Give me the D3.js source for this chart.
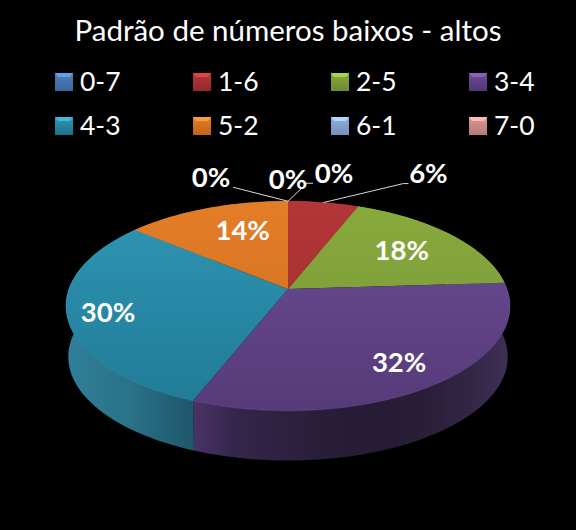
<!DOCTYPE html>
<html>
<head>
<meta charset="utf-8">
<script src="https://cdn.jsdelivr.net/npm/d3@7"></script>
<style>
  html, body { margin: 0; padding: 0; background: #000; }
  text { font-family: Lato, sans-serif; fill: #fff; }
</style>
</head>
<body>
<div id="chart"></div>
<script>
// chart values
var title = 'Padrão de números baixos - altos';
var categories = ['0-7', '1-6', '2-5', '3-4', '4-3', '5-2', '6-1', '7-0'];
var percents = [0, 6, 18, 32, 30, 14, 0, 0];

// colours per category
var topLight = ['#4f81bd', '#b43638', '#8aab3c', '#6d4e98', '#2f98b6', '#e47e28', '#8eaed8', '#d99694'];
var topDark = ['#3f6fa8', '#a12c2e', '#76963a', '#573a78', '#217a96', '#d06c1e', '#7f9fcb', '#c98583'];
// side wall colours, left to right on the page
var sideStops = [
  ['#2f5585', '#223f63'],
  ['#7d2424', '#5a1a1a'],
  ['#5f7a2a', '#45591e'],
  ['#4a3366', '#35264b', '#2f2242', '#2a1f3b', '#271c35', '#271c35', '#2a1f3a', '#332645', '#3f3057'],
  ['#2f8099', '#2a7288', '#1f566a'],
  ['#a85a18', '#7d4312'],
  ['#6a86aa', '#4f6580'],
  ['#a06e6c', '#7a5452']
];

// label placement relative to each slice's rim point, apart from the values
var labelOffsets = [
  { dx: 46, dy: -28, leader: [[19, -18], [25, -18]] },
  { dx: 105, dy: -29, leader: [[80, -19], [85, -19]] },
  { dx: -48, dy: 16 },
  { dx: -37, dy: -22 },
  { dx: 41, dy: -3 },
  { dx: 36, dy: 22 },
  { dx: -77, dy: -24, leader: [[-55, -14]] },
  { dx: 0, dy: -22 }
];

var attrs = {
  width: 576,
  height: 530,
  cx: 288,
  cy: 289,
  radiusX: 219,
  radiusY: 102,
  perspective: 0.162,
  depth: 51,
  bottomScale: 0.99
};

var svg = d3.select('#chart').append('svg')
  .attr('width', attrs.width)
  .attr('height', attrs.height)
  .style('display', 'block');

svg.append('rect').attr('width', attrs.width).attr('height', attrs.height).attr('fill', '#000');
var defs = svg.append('defs');

// pie angle to screen point, circle seen in perspective
function project(angle, scale, drop) {
  var u = Math.sin(angle), v = -Math.cos(angle);
  var w = 1 - attrs.perspective * v;
  return [
    attrs.cx + scale * attrs.radiusX * u / w,
    attrs.cy + drop + scale * attrs.radiusY * v / w
  ];
}

function rimPoints(d, scale, drop) {
  var steps = Math.max(2, Math.ceil((d.endAngle - d.startAngle) / 0.02));
  return d3.range(steps + 1).map(function (i) {
    return project(d.startAngle + (d.endAngle - d.startAngle) * i / steps, scale, drop);
  });
}

var line = d3.line();
var slices = d3.pie().sort(null).value(function (d) { return d; })(percents);
var visible = slices.filter(function (d) { return d.value > 0; });

// side wall
var sideGroup = svg.append('g');
visible.forEach(function (d) {
  var upper = rimPoints(d, 1, 0);
  var lower = rimPoints(d, attrs.bottomScale, attrs.depth);
  var xs = upper.map(function (p) { return p[0]; });
  var id = 'side-' + d.index;
  var grad = defs.append('linearGradient').attr('id', id)
    .attr('gradientUnits', 'userSpaceOnUse')
    .attr('x1', d3.min(xs)).attr('x2', d3.max(xs)).attr('y1', 0).attr('y2', 0);
  var stops = sideStops[d.index];
  stops.forEach(function (c, i) {
    grad.append('stop').attr('offset', i / (stops.length - 1)).attr('stop-color', c);
  });
  sideGroup.append('path')
    .attr('d', line(upper.concat(lower.reverse())) + 'Z')
    .attr('fill', 'url(#' + id + ')');
});

// top face
var topGroup = svg.append('g');
visible.forEach(function (d) {
  var id = 'top-' + d.index;
  var grad = defs.append('linearGradient').attr('id', id)
    .attr('gradientUnits', 'userSpaceOnUse')
    .attr('x1', 0).attr('x2', 0)
    .attr('y1', attrs.cy - attrs.radiusY).attr('y2', attrs.cy + attrs.radiusY + 20);
  grad.append('stop').attr('offset', 0).attr('stop-color', topLight[d.index]);
  grad.append('stop').attr('offset', 1).attr('stop-color', topDark[d.index]);
  var rim = rimPoints(d, 1, 0);
  topGroup.append('path')
    .attr('d', line([[attrs.cx, attrs.cy]].concat(rim)) + 'Z')
    .attr('fill', 'url(#' + id + ')');
  // thin light edge along the front rim
  topGroup.append('path')
    .attr('d', line(rim))
    .attr('fill', 'none')
    .attr('stroke', d3.color(topLight[d.index]).brighter(0.7))
    .attr('stroke-opacity', 0.45)
    .attr('stroke-width', 0.8);
});

// leader lines for the small slices
var leaderGroup = svg.append('g');
slices.forEach(function (d) {
  var o = labelOffsets[d.index];
  if (!o.leader) return;
  var a = project((d.startAngle + d.endAngle) / 2, 1, 0);
  var pts = [a].concat(o.leader.map(function (p) { return [a[0] + p[0], a[1] + p[1]]; }));
  leaderGroup.append('path')
    .attr('d', line(pts))
    .attr('fill', 'none')
    .attr('stroke', '#d9d9d9')
    .attr('stroke-width', 1);
});

// percent labels
var labelGroup = svg.append('g');
slices.forEach(function (d) {
  var o = labelOffsets[d.index];
  var a = project((d.startAngle + d.endAngle) / 2, 1, 0);
  labelGroup.append('text')
    .attr('x', a[0] + o.dx)
    .attr('y', a[1] + o.dy)
    .attr('text-anchor', 'middle')
    .attr('dy', '0.36em')
    .attr('font-size', 27.5)
    .attr('font-weight', 700)
    .text(d.value + '%');
});

// title
svg.append('text')
  .attr('x', attrs.cx)
  .attr('y', 41)
  .attr('text-anchor', 'middle')
  .attr('font-size', 29.5)
  .text(title);

// legend, four to a row
var legendX = d3.scalePoint().domain(d3.range(4)).range([55, 469]);
var legendY = d3.scalePoint().domain(d3.range(2)).range([73, 117]);
var key = 18;
var legend = svg.append('g').selectAll('g').data(categories).enter().append('g')
  .attr('transform', function (d, i) {
    return 'translate(' + legendX(i % 4) + ',' + legendY(Math.floor(i / 4)) + ')';
  });

legend.each(function (d, i) {
  var g = d3.select(this);
  var id = 'key-' + i;
  var grad = defs.append('linearGradient').attr('id', id).attr('x1', 0).attr('x2', 0).attr('y1', 0).attr('y2', 1);
  grad.append('stop').attr('offset', 0).attr('stop-color', topLight[i]);
  grad.append('stop').attr('offset', 1).attr('stop-color', d3.color(topDark[i]).darker(0.25));
  g.append('rect').attr('width', key).attr('height', key).attr('fill', 'url(#' + id + ')');
  // bevel on the upper edge
  g.append('path')
    .attr('d', line([[0, 0], [key, 0], [key - 3, 4], [3, 4]]) + 'Z')
    .attr('fill', d3.color(topLight[i]).brighter(0.6));
  g.append('text')
    .attr('x', 25)
    .attr('y', 18)
    .attr('font-size', 26.5)
    .text(d);
});
</script>
</body>
</html>
